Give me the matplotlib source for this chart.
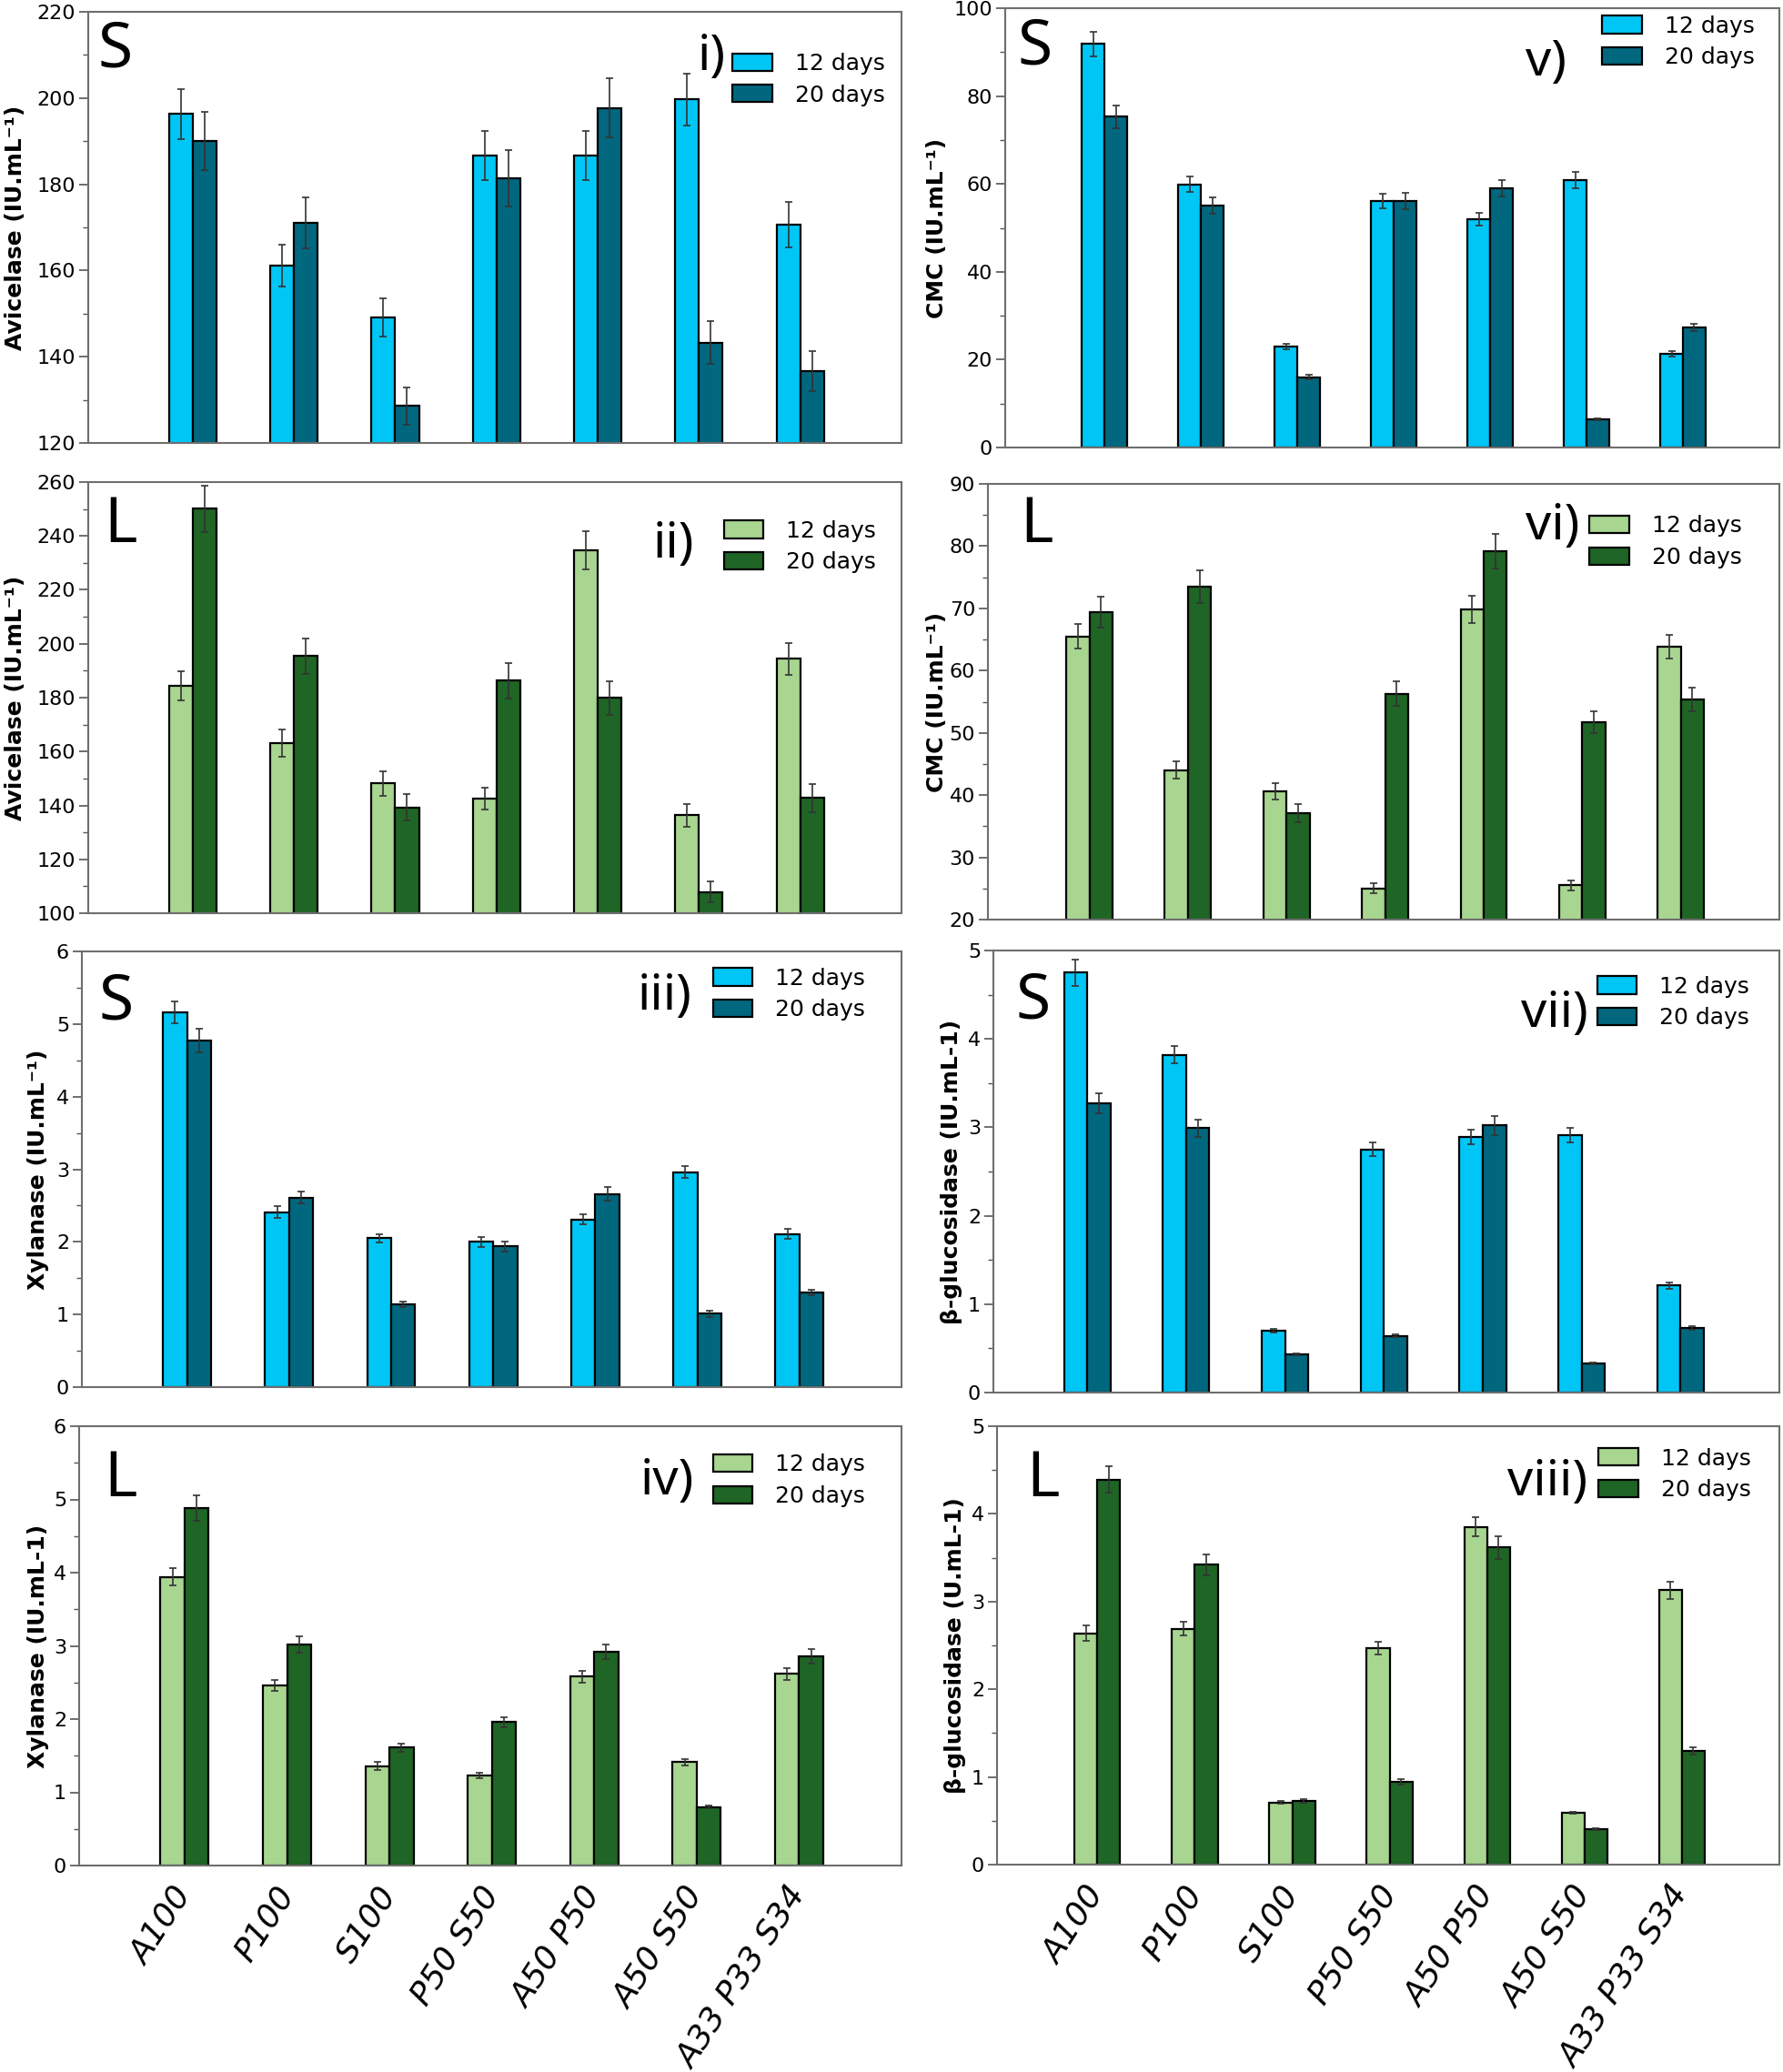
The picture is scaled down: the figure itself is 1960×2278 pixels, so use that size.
import matplotlib
matplotlib.use("Agg")
import numpy as np
import matplotlib.pyplot as plt
from matplotlib.ticker import MultipleLocator, AutoMinorLocator

plt.rcParams["font.family"] = ["DejaVu Sans"]

# --- data ---
categories = ["A100", "P100", "S100", "P50 S50", "A50 P50", "A50 S50", "A33 P33 S34"]

avi_s_12 = [196.3, 161.1, 149.1, 186.7, 186.7, 199.7, 170.6]
avi_s_12_err = [5.8, 4.8, 4.4, 5.7, 5.7, 6.0, 5.3]
avi_s_20 = [190.0, 171.0, 128.6, 181.4, 197.7, 143.3, 136.7]
avi_s_20_err = [6.7, 5.9, 4.3, 6.5, 6.8, 4.9, 4.6]

avi_l_12 = [184.3, 163.1, 148.2, 142.5, 234.7, 136.3, 194.4]
avi_l_12_err = [5.4, 5.1, 4.6, 4.1, 7.1, 4.2, 5.9]
avi_l_20 = [250.1, 195.4, 139.3, 186.3, 179.9, 107.9, 142.8]
avi_l_20_err = [8.7, 6.5, 4.8, 6.6, 6.3, 3.9, 5.2]

xyl_s_12 = [5.16, 2.41, 2.05, 2.00, 2.31, 2.96, 2.11]
xyl_s_12_err = [0.15, 0.08, 0.06, 0.07, 0.07, 0.08, 0.07]
xyl_s_20 = [4.77, 2.61, 1.14, 1.94, 2.66, 1.01, 1.30]
xyl_s_20_err = [0.16, 0.08, 0.04, 0.07, 0.09, 0.04, 0.04]

xyl_l_12 = [3.94, 2.46, 1.36, 1.23, 2.58, 1.41, 2.62]
xyl_l_12_err = [0.12, 0.08, 0.05, 0.04, 0.08, 0.04, 0.08]
xyl_l_20 = [4.88, 3.02, 1.61, 1.96, 2.92, 0.80, 2.86]
xyl_l_20_err = [0.17, 0.11, 0.06, 0.07, 0.10, 0.02, 0.10]

cmc_s_12 = [91.9, 59.9, 23.0, 56.1, 52.0, 60.9, 21.4]
cmc_s_12_err = [2.8, 1.8, 0.7, 1.6, 1.5, 1.9, 0.6]
cmc_s_20 = [75.3, 55.1, 16.0, 56.1, 59.0, 6.4, 27.3]
cmc_s_20_err = [2.6, 1.8, 0.5, 1.9, 1.9, 0.2, 0.9]

cmc_l_12 = [65.5, 44.0, 40.6, 25.0, 69.8, 25.5, 63.9]
cmc_l_12_err = [2.0, 1.4, 1.3, 0.8, 2.2, 0.8, 1.9]
cmc_l_20 = [69.4, 73.5, 37.1, 56.3, 79.2, 51.7, 55.4]
cmc_l_20_err = [2.5, 2.6, 1.4, 2.0, 2.8, 1.8, 1.9]

bgl_s_12 = [4.75, 3.82, 0.70, 2.75, 2.89, 2.91, 1.21]
bgl_s_12_err = [0.15, 0.10, 0.02, 0.08, 0.08, 0.08, 0.04]
bgl_s_20 = [3.27, 2.99, 0.43, 0.64, 3.02, 0.33, 0.73]
bgl_s_20_err = [0.11, 0.10, 0.01, 0.015, 0.11, 0.01, 0.02]

bgl_l_12 = [2.64, 2.69, 0.71, 2.47, 3.85, 0.59, 3.13]
bgl_l_12_err = [0.09, 0.08, 0.02, 0.07, 0.11, 0.01, 0.10]
bgl_l_20 = [4.39, 3.42, 0.73, 0.94, 3.62, 0.40, 1.30]
bgl_l_20_err = [0.15, 0.12, 0.02, 0.03, 0.13, 0.01, 0.04]

series_labels = ["12 days", "20 days"]
blue_colors = ["#00C6F6", "#00677F"]
green_colors = ["#A8D590", "#1F6526"]

W, H = 1960, 2278
fig = plt.figure(figsize=(W / 100, H / 100), dpi=100)

LETTER_FONT = ["Noto Sans", "DejaVu Sans"]


def panel(box, y12, e12, y20, e20, colors, ylim, step, ylabel, label_x,
          letter, letter_pos, numeral, numeral_pos, leg_pos, show_x=False,
          x_left=-1.03):
    l, t, r, b = box
    ax = fig.add_axes([l / W, 1 - b / H, (r - l) / W, (b - t) / H])
    x = np.arange(len(categories))
    w = 0.235
    bars = []
    for vals, errs, c, off, lab in [(y12, e12, colors[0], -w / 2, series_labels[0]),
                                    (y20, e20, colors[1], w / 2, series_labels[1])]:
        bc = ax.bar(x + off, vals, width=w, color=c, edgecolor="black",
                    linewidth=1.6, label=lab, zorder=2)
        ax.errorbar(x + off, vals, yerr=errs, fmt="none", ecolor="#333333",
                    elinewidth=1.2, capsize=3, capthick=1.2, zorder=3)
        bars.append(bc)

    ax.set_xlim(x_left, 7.0)
    ax.set_ylim(*ylim)
    ax.yaxis.set_major_locator(MultipleLocator(step))
    ax.yaxis.set_minor_locator(AutoMinorLocator(2))
    for s in ax.spines.values():
        s.set_color("#6e6e6e")
        s.set_linewidth(1.5)
    ax.tick_params(axis="y", which="major", direction="out", length=7, width=1.2,
                   color="#555555", labelsize=16, pad=3)
    ax.tick_params(axis="y", which="minor", direction="out", length=4, width=1.0,
                   color="#555555")
    ax.tick_params(axis="x", length=0)
    ax.set_xticks(x)
    if show_x:
        ax.set_xticklabels(categories, rotation=57, ha="right", va="center",
                           rotation_mode="anchor", fontsize=26, fontstyle="italic")
        ax.tick_params(axis="x", pad=19)
    else:
        ax.set_xticklabels([])

    fig.text(label_x / W, 1 - (t + b) / 2 / H, ylabel, rotation=90, ha="center",
             va="center", fontsize=18, fontweight="bold")

    ax.text(letter_pos[0], letter_pos[1], letter, transform=ax.transAxes,
            ha="left", va="top", fontsize=50, family=LETTER_FONT)
    ax.text(numeral_pos[0], numeral_pos[1], numeral, transform=ax.transAxes,
            ha="right", va="center", fontsize=40, family=LETTER_FONT)

    ax.legend(handles=bars, loc="upper right", bbox_to_anchor=leg_pos,
              frameon=False, fontsize=18, handlelength=1.75, handleheight=0.8,
              handletextpad=1.0, labelspacing=0.42, borderpad=0, borderaxespad=0)
    return ax


# left column
panel((97, 13, 991, 487), avi_s_12, avi_s_12_err, avi_s_20, avi_s_20_err,
      blue_colors, (120, 220), 20, "Avicelase (IU.mL\u207b\u00b9)", 17,
      "S", (0.012, 0.985), "i)", (0.784, 0.895), (0.98, 0.905))
panel((97, 530, 991, 1004), avi_l_12, avi_l_12_err, avi_l_20, avi_l_20_err,
      green_colors, (100, 260), 20, "Avicelase (IU.mL\u207b\u00b9)", 17,
      "L", (0.019, 0.972), "ii)", (0.745, 0.856), (0.969, 0.912))
panel((90, 1046, 991, 1525), xyl_s_12, xyl_s_12_err, xyl_s_20, xyl_s_20_err,
      blue_colors, (0, 6), 1, "Xylanase (IU.mL\u207b\u00b9)", 42,
      "S", (0.021, 0.955), "iii)", (0.744, 0.896), (0.956, 0.963))
panel((87, 1568, 991, 2051), xyl_l_12, xyl_l_12_err, xyl_l_20, xyl_l_20_err,
      green_colors, (0, 6), 1, "Xylanase (IU.mL-1)", 42,
      "L", (0.030, 0.95), "iv)", (0.748, 0.874), (0.956, 0.937), show_x=True)

# right column
panel((1105, 9, 1956, 492), cmc_s_12, cmc_s_12_err, cmc_s_20, cmc_s_20_err,
      blue_colors, (0, 100), 20, "CMC (IU.mL\u207b\u00b9)", 1030,
      "S", (0.016, 0.982), "v)", (0.725, 0.876), (0.968, 0.984))
panel((1086, 532, 1956, 1011), cmc_l_12, cmc_l_12_err, cmc_l_20, cmc_l_20_err,
      green_colors, (20, 90), 10, "CMC (IU.mL\u207b\u00b9)", 1030,
      "L", (0.041, 0.978), "vi)", (0.747, 0.902), (0.953, 0.928))
panel((1092, 1045, 1956, 1531), bgl_s_12, bgl_s_12_err, bgl_s_20, bgl_s_20_err,
      blue_colors, (0, 5), 1, "\u03b2-glucosidase (IU.mL-1)", 1046,
      "S", (0.028, 0.955), "vii)", (0.757, 0.856), (0.962, 0.943), x_left=-0.95)
panel((1096, 1568, 1956, 2050), bgl_l_12, bgl_l_12_err, bgl_l_20, bgl_l_20_err,
      green_colors, (0, 5), 1, "\u03b2-glucosidase (U.mL-1)", 1050,
      "L", (0.038, 0.95), "viii)", (0.755, 0.872), (0.964, 0.951), show_x=True)

fig.savefig("out.png", dpi=100)
